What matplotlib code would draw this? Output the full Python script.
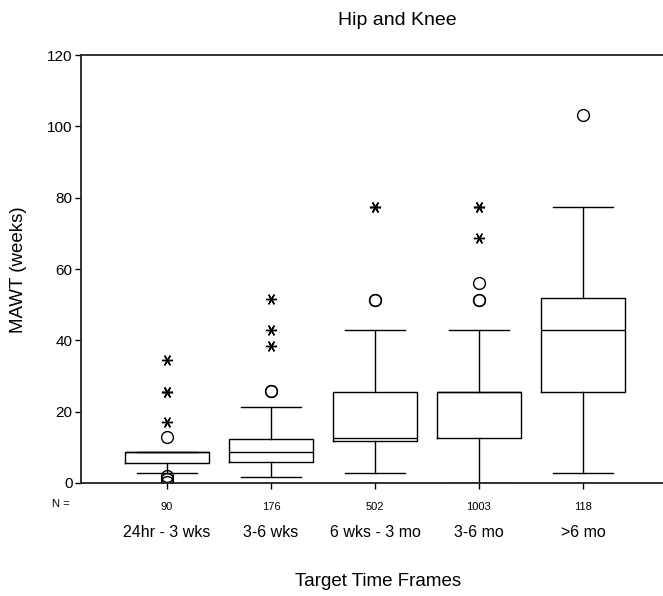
import matplotlib.pyplot as plt
from matplotlib.transforms import blended_transform_factory

plt.rcParams["font.family"] = ["Liberation Sans", "DejaVu Sans"]

# data (weeks)
categories = ["24hr - 3 wks", "3-6 wks", "6 wks - 3 mo", "3-6 mo", ">6 mo"]
counts = [90, 176, 502, 1003, 118]
q1 = [5.5, 6.0, 11.8, 12.5, 25.6]
med = [8.6, 8.6, 12.5, 25.6, 42.9]
q3 = [8.6, 12.3, 25.6, 25.6, 51.8]
whislo = [2.7, 1.8, 2.7, 0.1, 2.7]
whishi = [8.6, 21.4, 42.9, 42.9, 77.5]
# outliers (circles) and extremes (stars)
outliers = [[12.8, 1.9, 1.0, 0.3], [25.8, 25.8], [51.3, 51.3], [56.0, 51.3, 51.3], [103.2]]
extremes = [[34.4, 25.6, 25.6, 17.0], [51.5, 42.9, 38.5], [77.3, 77.3], [77.5, 77.5, 68.6], []]

fig = plt.figure(figsize=(6.63, 5.96), dpi=100)
ax = fig.add_axes([0.1222, 0.1896, 0.8778, 0.718])

pos = list(range(1, len(categories) + 1))
stats = []
for i in range(len(categories)):
    stats.append({"q1": q1[i], "med": med[i], "q3": q3[i],
                  "whislo": whislo[i], "whishi": whishi[i], "fliers": []})

ax.bxp(stats, positions=pos, widths=0.8, showfliers=False,
       boxprops=dict(color="black", lw=1.0),
       medianprops=dict(color="black", lw=1.0),
       whiskerprops=dict(color="black", lw=1.0),
       capprops=dict(color="black", lw=1.0), capwidths=0.57)

for p, o, e in zip(pos, outliers, extremes):
    ax.plot([p] * len(o), o, ls="none", marker="o", ms=8.5, mfc="none",
            mec="black", mew=1.0)
    ax.plot([p] * len(e), e, ls="none", marker=(6, 2, 90), ms=8,
            mec="black", mew=1.0)

ax.set_xlim(0.173, 5.77)
ax.set_ylim(0, 120)
ax.set_yticks(range(0, 121, 20))
ax.tick_params(axis="y", direction="out", length=4, width=1.0,
               labelsize=11, pad=2)
ax.set_xticks(pos)
ax.set_xticklabels([str(c) for c in counts], fontsize=8)
ax.tick_params(axis="x", direction="out", length=4, width=1.0, pad=10)
ax.spines["right"].set_visible(False)
for s in ["left", "bottom", "top"]:
    ax.spines[s].set_linewidth(1.3)
    ax.spines[s].set_color("#222222")

tr = blended_transform_factory(ax.transData, ax.transAxes)
for p, c in zip(pos, categories):
    ax.text(p, -0.115, c, transform=tr, ha="center", va="center", fontsize=11.5)
ax.text(-0.035, -0.049, "N =", transform=ax.transAxes, ha="center",
        va="center", fontsize=8)

fig.text(0.6, 0.966, "Hip and Knee", ha="center", va="center", fontsize=14)
fig.text(0.57, 0.025, "Target Time Frames", ha="center", va="center",
         fontsize=13.5)
fig.text(0.028, 0.547, "MAWT (weeks)", ha="center", va="center",
         rotation=90, fontsize=13.5)

fig.savefig("out.png", dpi=100)
